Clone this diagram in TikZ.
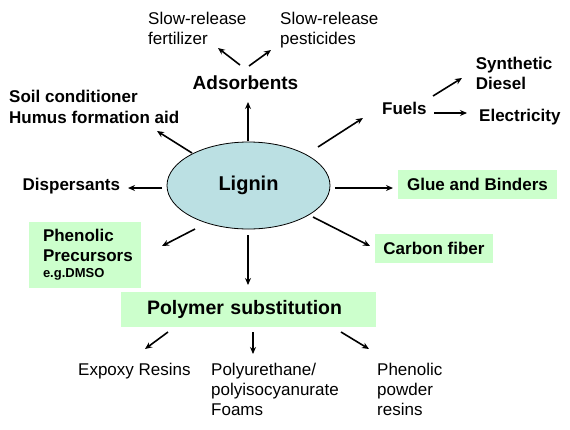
\documentclass[tikz,border=0pt]{standalone}
\usepackage{fontspec}
\setmainfont{Liberation Sans}
\usetikzlibrary{arrows.meta,shapes.geometric}
\definecolor{ligblue}{RGB}{187,224,227}
\definecolor{boxgreen}{RGB}{204,255,204}
\tikzset{
  txt/.style={inner sep=0pt, anchor=west, align=left, font=\fontsize{17}{20}\selectfont},
  btxt/.style={inner sep=0pt, anchor=west, align=left, font=\fontsize{17}{20}\selectfont\bfseries},
  greenbox/.style={fill=boxgreen, inner sep=0pt, font=\fontsize{17}{20}\selectfont\bfseries},
  arr/.style={line width=1.6pt, -{Stealth[length=7pt,width=6pt]}},
}
\begin{document}
\begin{tikzpicture}[x=1pt,y=-1pt]
\useasboundingbox (0,0) rectangle (570,429);
% central node
\node[ellipse, draw, line width=0.8pt, fill=ligblue, minimum width=163pt, minimum height=87pt,
      inner sep=0pt, font=\fontsize{20}{24}\selectfont\bfseries] (lignin) at (248.5,185.5) {Lignin};
% top
\node[inner sep=0pt, font=\fontsize{19}{23}\selectfont\bfseries] (ads) at (245.5,82.4) {Adsorbents};
\node[txt] (fert) at (148,28.8) {Slow-release\\fertilizer};
\node[txt] (pest) at (280,30.6) {Slow-release\\pesticides};
\node[btxt, font=\fontsize{17}{21}\selectfont\bfseries] (soil) at (9,107.3) {Soil conditioner\\Humus formation aid};
% right
\node[btxt] (fuels) at (382,108.8) {Fuels};
\node[btxt] (syn) at (475.7,73) {Synthetic\\Diesel};
\node[btxt] (elec) at (479,117) {Electricity};
\node[greenbox, minimum width=159pt, minimum height=29pt] (glue) at (477.5,184.5) {Glue and Binders};
\node[greenbox, minimum width=118pt, minimum height=29pt] (carbon) at (434,248.5) {Carbon fiber};
% left
\node[btxt] (disp) at (22.5,186) {Dispersants};
\node[greenbox, minimum height=66pt, text width=84pt, inner xsep=14pt, align=left] (phen) at (85,255)
  {Phenolic\\Precursors\\[-4pt]{\fontsize{13}{16}\selectfont e.g.DMSO}};
% bottom
\node[greenbox, minimum height=35pt, text width=203pt, inner xsep=26pt, align=left,
      font=\fontsize{19.5}{23}\selectfont\bfseries] (poly) at (248.5,309.5) {Polymer substitution};
\node[txt] (epoxy) at (78,371) {Expoxy Resins};
\node[txt] (polyu) at (211,389.4) {Polyurethane/\\polyisocyanurate\\Foams};
\node[txt] (phpow) at (377,389.4) {Phenolic\\powder\\resins};
% arrow end points
\coordinate (ligN) at (248,141);
\coordinate (adsIn) at (248,102);
\coordinate (fertIn) at (218,48);
\coordinate (adsL) at (240,65);
\coordinate (adsR) at (249,66);
\coordinate (pestIn) at (271,50);
\coordinate (ligNW) at (192,153);
\coordinate (soilIn) at (157,131);
\coordinate (ligNE) at (318,147);
\coordinate (fuelsIn) at (363,118);
\coordinate (fuelsUp) at (433,96);
\coordinate (synIn) at (462,78);
\coordinate (fuelsR) at (434,113);
\coordinate (elecIn) at (467,113);
\coordinate (ligE) at (335,188);
\coordinate (glueIn) at (393,188);
\coordinate (ligW) at (162,188);
\coordinate (dispIn) at (128,188);
\coordinate (ligSE) at (313,217);
\coordinate (carbonIn) at (370,246);
\coordinate (ligSW) at (195,229);
\coordinate (phenIn) at (162,246);
\coordinate (ligS) at (248,235);
\coordinate (polyIn) at (248,285);
\coordinate (polyL) at (168,332);
\coordinate (epoxyIn) at (145,349);
\coordinate (polyM) at (253,332);
\coordinate (polyuIn) at (253,354);
\coordinate (polyR) at (341,332);
\coordinate (phpowIn) at (369,349);
% connectors
\draw[arr] (ligN) -- (adsIn);
\draw[arr] (adsL) -- (fertIn);
\draw[arr] (adsR) -- (pestIn);
\draw[arr] (ligNW) -- (soilIn);
\draw[arr] (ligNE) -- (fuelsIn);
\draw[arr] (fuelsUp) -- (synIn);
\draw[arr] (fuelsR) -- (elecIn);
\draw[arr] (ligE) -- (glueIn);
\draw[arr] (ligW) -- (dispIn);
\draw[arr] (ligSE) -- (carbonIn);
\draw[arr] (ligSW) -- (phenIn);
\draw[arr] (ligS) -- (polyIn);
\draw[arr] (polyL) -- (epoxyIn);
\draw[arr] (polyM) -- (polyuIn);
\draw[arr] (polyR) -- (phpowIn);
\end{tikzpicture}
\end{document}
